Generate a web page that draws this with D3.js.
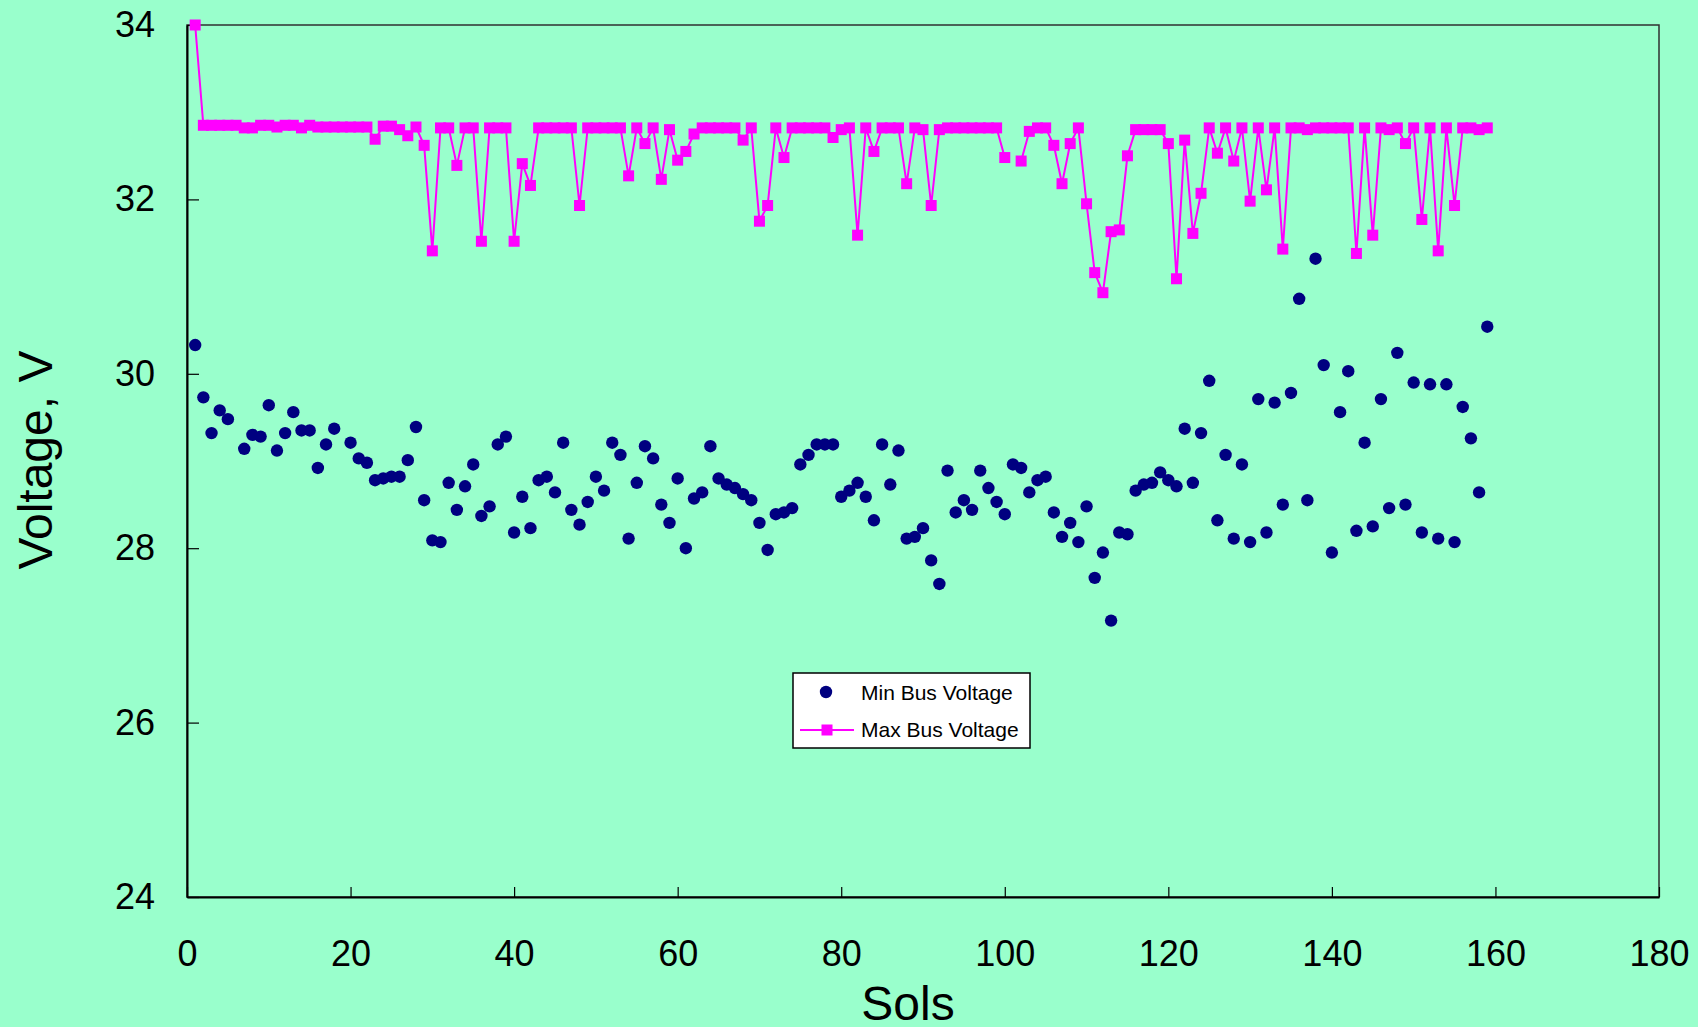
<!DOCTYPE html>
<html>
<head>
<meta charset="utf-8">
<script src="https://cdn.jsdelivr.net/npm/d3@7"></script>
<style>
  html, body { margin: 0; padding: 0; background: #99FFCC; }
  svg { display: block; }
  text { font-family: "Liberation Sans", Arial, sans-serif; }
</style>
</head>
<body>
<svg id="chart" width="1698" height="1027"></svg>
<script>
// ---- data ----
const xTicks = [0, 20, 40, 60, 80, 100, 120, 140, 160, 180];
const yTicks = [24, 26, 28, 30, 32, 34];
const seriesNames = ["Min Bus Voltage", "Max Bus Voltage"];

// Min bus voltage, sols 1..159 (null = no reading)
const minV = [
  30.33, 29.73, 29.32, 29.58, 29.48, null, 29.14, 29.30, 29.28, 29.64,
  29.12, 29.32, 29.56, 29.35, 29.35, 28.92, 29.19, 29.37, null, 29.21,
  29.03, 28.98, 28.78, 28.80, 28.82, 28.82, 29.01, 29.39, 28.55, 28.09,
  28.07, 28.75, 28.44, 28.71, 28.96, 28.37, 28.48, 29.19, 29.28, 28.18,
  28.59, 28.23, 28.78, 28.82, 28.64, 29.21, 28.44, 28.27, 28.53, 28.82,
  28.66, 29.21, 29.07, 28.11, 28.75, 29.17, 29.03, 28.50, 28.29, 28.80,
  28.00, 28.57, 28.64, 29.17, 28.80, 28.73, 28.69, 28.62, 28.55, 28.29,
  27.98, 28.39, 28.41, 28.46, 28.96, 29.07, 29.19, 29.19, 29.19, 28.59,
  28.66, 28.75, 28.59, 28.32, 29.19, 28.73, 29.12, 28.11, 28.13, 28.23,
  27.86, 27.59, 28.89, 28.41, 28.55, 28.44, 28.89, 28.69, 28.53, 28.39,
  28.96, 28.92, 28.64, 28.78, 28.82, 28.41, 28.13, 28.29, 28.07, 28.48,
  27.66, 27.95, 27.17, 28.18, 28.16, 28.66, 28.73, 28.75, 28.87, 28.78,
  28.71, 29.37, 28.75, 29.32, 29.92, 28.32, 29.07, 28.11, 28.96, 28.07,
  29.71, 28.18, 29.67, 28.50, 29.78, 30.86, 28.55, 31.32, 30.10, 27.95,
  29.56, 30.03, 28.20, 29.21, 28.25, 29.71, 28.46, 30.24, 28.50, 29.90,
  28.18, 29.88, 28.11, 29.88, 28.07, 29.62, 29.26, 28.64, 30.54
];

// Max bus voltage, sols 1..159 (null = no reading)
const maxV = [
  34.00, 32.85, 32.85, 32.85, 32.85, 32.85, 32.82, 32.82, 32.85, 32.85,
  32.83, 32.85, 32.85, 32.82, 32.85, 32.83, 32.83, 32.83, 32.83, 32.83,
  32.83, 32.83, 32.69, 32.84, 32.84, 32.80, 32.73, 32.83, 32.62, 31.41,
  32.82, 32.82, 32.39, 32.82, 32.82, 31.52, 32.82, 32.82, 32.82, 31.52,
  32.41, 32.16, 32.82, 32.82, 32.82, 32.82, 32.82, 31.93, 32.82, 32.82,
  32.82, 32.82, 32.82, 32.27, 32.82, 32.64, 32.82, 32.23, 32.80, 32.45,
  32.55, 32.75, 32.82, 32.82, 32.82, 32.82, 32.82, 32.68, 32.82, 31.75,
  31.93, 32.82, 32.48, 32.82, 32.82, 32.82, 32.82, 32.82, 32.71, 32.80,
  32.82, 31.59, 32.82, 32.55, 32.82, 32.82, 32.82, 32.18, 32.82, 32.80,
  31.93, 32.80, 32.82, 32.82, 32.82, 32.82, 32.82, 32.82, 32.82, 32.48,
  null,  32.44, 32.78, 32.82, 32.82, 32.62, 32.18, 32.64, 32.82, 31.95,
  31.16, 30.93, 31.63, 31.65, 32.50, 32.80, 32.80, 32.80, 32.80, 32.64,
  31.09, 32.68, 31.61, 32.07, 32.82, 32.53, 32.82, 32.44, 32.82, 31.98,
  32.82, 32.11, 32.82, 31.43, 32.82, 32.82, 32.80, 32.82, 32.82, 32.82,
  32.82, 32.82, 31.38, 32.82, 31.59, 32.82, 32.80, 32.82, 32.64, 32.82,
  31.77, 32.82, 31.41, 32.82, 31.93, 32.82, 32.82, 32.80, 32.82
];

// ---- layout ----
const W = 1698, H = 1027;
const M = { left: 187, right: 1659, top: 25, bottom: 897 };
const bg = "#99FFCC", minColor = "#000080", maxColor = "#FF00FF";

const svg = d3.select("#chart");
svg.append("rect").attr("width", W).attr("height", H).attr("fill", bg);

const x = d3.scaleLinear().domain([0, 180]).range([M.left, M.right]);
const y = d3.scaleLinear().domain([24, 34]).range([M.bottom, M.top]);

// plot frame
svg.append("rect")
  .attr("x", M.left).attr("y", M.top)
  .attr("width", M.right - M.left).attr("height", M.bottom - M.top)
  .attr("fill", "none").attr("stroke", "#303030").attr("stroke-width", 1.5);

// axes
const yAxis = d3.axisLeft(y).tickValues(yTicks).tickSizeInner(-12).tickSizeOuter(0).tickPadding(32).tickFormat(d3.format("d"));
const xAxis = d3.axisBottom(x).tickValues(xTicks).tickSizeInner(-10).tickSizeOuter(0).tickPadding(43).tickFormat(d3.format("d"));

const gy = svg.append("g").attr("transform", `translate(${M.left},0)`).call(yAxis);
const gx = svg.append("g").attr("transform", `translate(0,${M.bottom})`).call(xAxis);
[gx, gy].forEach(g => {
  g.select(".domain").attr("stroke", "#000").attr("stroke-width", 2);
  g.selectAll(".tick line").attr("stroke", "#000").attr("stroke-width", 1.2);
  g.selectAll(".tick text").attr("fill", "#000").style("font-size", "36px")
    .style("font-family", "'Liberation Sans', Arial, sans-serif");
});

// axis titles
svg.append("text")
  .attr("x", 908).attr("y", 1020)
  .attr("text-anchor", "middle")
  .style("font-size", "48px").attr("fill", "#000")
  .text("Sols");
svg.append("text")
  .attr("transform", "translate(52,460) rotate(-90)")
  .attr("text-anchor", "middle")
  .style("font-size", "48px").attr("fill", "#000")
  .text("Voltage, V");

// max series line + squares
const maxData = maxV.map((v, i) => ({ sol: i + 1, v }));
const line = d3.line()
  .defined(d => d.v !== null)
  .x(d => x(d.sol)).y(d => y(d.v));
svg.append("path").datum(maxData)
  .attr("d", line).attr("fill", "none")
  .attr("stroke", maxColor).attr("stroke-width", 2);
const sq = 11;
svg.append("g").selectAll("rect")
  .data(maxData.filter(d => d.v !== null))
  .join("rect")
  .attr("x", d => x(d.sol) - sq / 2).attr("y", d => y(d.v) - sq / 2)
  .attr("width", sq).attr("height", sq)
  .attr("fill", maxColor);

// min series dots
const minData = minV.map((v, i) => ({ sol: i + 1, v })).filter(d => d.v !== null);
svg.append("g").selectAll("circle")
  .data(minData)
  .join("circle")
  .attr("cx", d => x(d.sol)).attr("cy", d => y(d.v))
  .attr("r", 6.2).attr("fill", minColor);

// legend
const lg = svg.append("g");
lg.append("rect").attr("x", 793).attr("y", 673).attr("width", 237).attr("height", 75)
  .attr("fill", "#fff").attr("stroke", "#000").attr("stroke-width", 1.5);
lg.append("circle").attr("cx", 826).attr("cy", 692).attr("r", 6.2).attr("fill", minColor);
lg.append("text").attr("x", 861).attr("y", 699.5).style("font-size", "21px").attr("fill", "#000").text(seriesNames[0]);
lg.append("line").attr("x1", 800).attr("x2", 854).attr("y1", 730).attr("y2", 730)
  .attr("stroke", maxColor).attr("stroke-width", 2);
lg.append("rect").attr("x", 827 - sq / 2).attr("y", 730 - sq / 2).attr("width", sq).attr("height", sq).attr("fill", maxColor);
lg.append("text").attr("x", 861).attr("y", 737).style("font-size", "21px").attr("fill", "#000").text(seriesNames[1]);
</script>
</body>
</html>
